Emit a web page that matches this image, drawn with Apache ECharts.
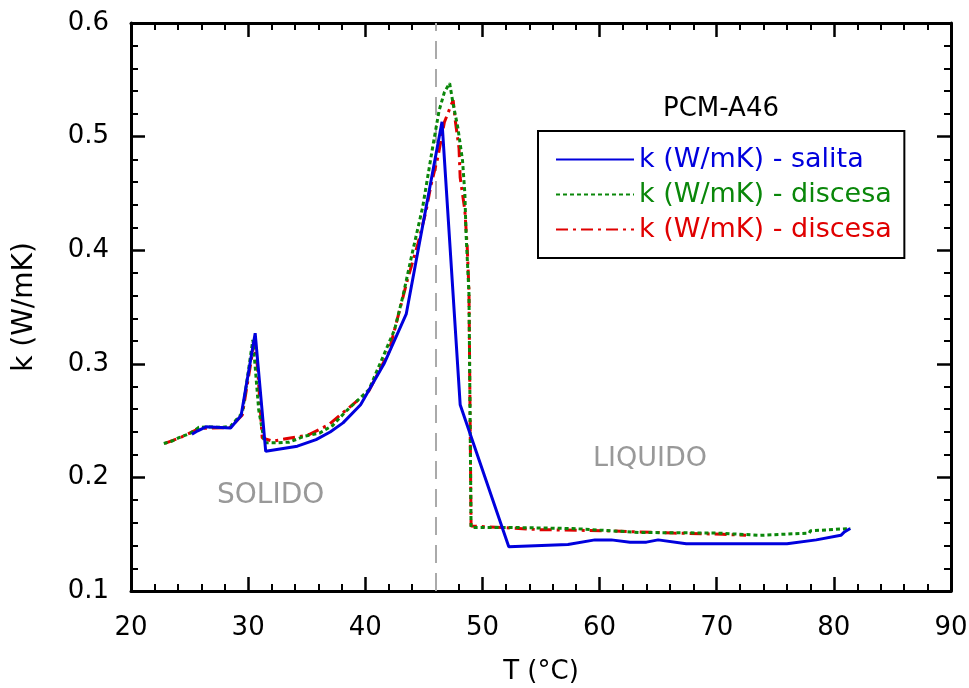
<!DOCTYPE html>
<html>
<head>
<meta charset="utf-8">
<script src="https://cdn.jsdelivr.net/npm/echarts@6/dist/echarts.min.js"></script>
<style>html,body{margin:0;padding:0;background:#fff}#c{width:969px;height:688px}</style>
</head>
<body>
<div id="c"></div>
<script>
// ---- data ----
const tSalita = [25.2, 25.7, 26.4, 28.5, 29.4, 30.6, 31.5, 34.2, 35.8, 37.0, 38.1, 39.6, 41.6, 43.5, 46.55, 48.1, 52.25, 57.3, 59.6, 61.0, 62.6, 64.0, 65.0, 67.4, 76.0, 78.5, 80.6, 80.9, 81.4];
const kSalita = [0.238, 0.241, 0.2445, 0.2435, 0.2545, 0.327, 0.223, 0.2275, 0.2333, 0.240, 0.248, 0.264, 0.300, 0.344, 0.513, 0.264, 0.139, 0.141, 0.145, 0.145, 0.143, 0.143, 0.145, 0.1415, 0.1415, 0.145, 0.149, 0.152, 0.155];

const tDiscesa1 = [22.8, 23.5, 24.1, 25.1, 25.8, 26.5, 27.8, 28.5, 29.5, 30.4, 30.6, 30.9, 31.4, 32.4, 33.5, 34.8, 36.1, 37.2, 38.35, 40.3, 42.5, 43.2, 44.0, 44.9, 45.75, 46.3, 46.75, 47.2, 47.5, 47.9, 48.3, 48.5, 48.6, 48.85, 48.95, 49.03, 52.0, 57.7, 63.4, 70.0, 73.7, 77.9, 78.0, 81.4];
const kDiscesa1 = [0.2298, 0.232, 0.235, 0.239, 0.2441, 0.2445, 0.244, 0.245, 0.2567, 0.321, 0.2976, 0.2596, 0.2304, 0.2304, 0.231, 0.2362, 0.239, 0.2456, 0.2582, 0.277, 0.33, 0.359, 0.397, 0.438, 0.4906, 0.5228, 0.539, 0.547, 0.5287, 0.508, 0.479, 0.45, 0.415, 0.362, 0.25, 0.156, 0.156, 0.155, 0.1515, 0.151, 0.149, 0.151, 0.153, 0.155];

const tDiscesa2 = [22.9, 24.2, 25.8, 28.5, 29.5, 30.5, 30.8, 31.2, 32.1, 33.2, 34.4, 35.2, 36.9, 37.9, 40.3, 42.0, 43.6, 44.5, 45.2, 45.6, 46.2, 46.75, 47.3, 47.5, 47.7, 48.0, 48.1, 48.5, 48.7, 48.85, 48.95, 49.03, 54.9, 60.6, 66.3, 70.5, 72.5];
const kDiscesa2 = [0.230, 0.235, 0.243, 0.244, 0.255, 0.318, 0.2976, 0.2348, 0.2318, 0.234, 0.236, 0.2377, 0.2465, 0.2553, 0.276, 0.31, 0.374, 0.406, 0.435, 0.457, 0.482, 0.5126, 0.527, 0.532, 0.5126, 0.49, 0.464, 0.435, 0.403, 0.365, 0.25, 0.1573, 0.154, 0.153, 0.151, 0.150, 0.149];

const phaseT = 46;
const xTicks = {min: 20, max: 90, interval: 10};
const yTicks = {min: 0.1, max: 0.6, interval: 0.1};
const names = ['k (W/mK) - salita', 'k (W/mK) - discesa', 'k (W/mK) - discesa '];
const colors = ['#0000dd', '#0a870a', '#e00000'];
const title = 'PCM-A46';
const xName = 'T (°C)';
const yName = 'k (W/mK)';

const pairs = (t, k) => t.map((v, i) => [v, k[i]]);
const FONT = 'DejaVu Sans';

function axisCommon(extra) {
  return Object.assign({
    type: 'value',
    axisLine: {show: true, onZero: false, lineStyle: {color: '#000', width: 3}},
    axisTick: {show: true, inside: true, length: 14, lineStyle: {color: '#000', width: 2.5}},
    minorTick: {show: true, splitNumber: 5, length: 7, lineStyle: {color: '#000', width: 2}},
    splitLine: {show: false},
    minorSplitLine: {show: false}
  }, extra);
}

const chart = echarts.init(document.getElementById('c'), null, {renderer: 'canvas'});
chart.setOption({
  animation: false,
  backgroundColor: '#fff',
  title: {
    text: title, left: 716, top: 91, textAlign: 'center',
    textStyle: {fontFamily: FONT, fontSize: 26, fontWeight: 'normal', color: '#000'}
  },
  legend: {
    orient: 'vertical', left: 538, top: 131,
    padding: [15, 4, 15, 17], itemGap: 8,
    itemWidth: 78, itemHeight: 14,
    borderColor: '#000', borderWidth: 2, backgroundColor: '#fff',
    itemStyle: {opacity: 0},
    data: names.map((n, i) => ({name: n, textStyle: {color: colors[i]}})),
    textStyle: {fontFamily: FONT, fontSize: 27}
  },
  grid: {left: 131, right: 18, top: 23, bottom: 97, containLabel: false, outerBoundsMode: 'none'},
  xAxis: [
    axisCommon({
      position: 'bottom', min: xTicks.min, max: xTicks.max, interval: xTicks.interval,
      name: xName, nameLocation: 'middle', nameGap: 68,
      nameTextStyle: {fontFamily: FONT, fontSize: 26, color: '#000'},
      axisLabel: {fontFamily: FONT, fontSize: 26, color: '#000', margin: 24}
    }),
    axisCommon({
      position: 'top', min: xTicks.min, max: xTicks.max, interval: xTicks.interval,
      axisLabel: {show: false}
    })
  ],
  yAxis: [
    axisCommon({
      position: 'left', min: yTicks.min, max: yTicks.max, interval: yTicks.interval,
      name: yName, nameLocation: 'middle', nameGap: 92,
      nameTextStyle: {fontFamily: FONT, fontSize: 28, color: '#000'},
      axisLabel: {fontFamily: FONT, fontSize: 26, color: '#000', margin: 22, formatter: v => v.toFixed(1)}
    }),
    axisCommon({
      position: 'right', min: yTicks.min, max: yTicks.max, interval: yTicks.interval,
      axisLabel: {show: false}
    })
  ],
  graphic: [
    {type: 'text', left: 217, top: 482, style: {text: 'SOLIDO', fontFamily: FONT, fontSize: 28, fill: '#999'}, z: 1},
    {type: 'text', left: 593, top: 445, style: {text: 'LIQUIDO', fontFamily: FONT, fontSize: 27, fill: '#999'}, z: 1}
  ],
  series: [
    {
      name: names[2], type: 'line', data: pairs(tDiscesa2, kDiscesa2), showSymbol: false, symbol: 'none',
      lineStyle: {color: colors[2], width: 3, type: [12, 5, 3, 5]}, itemStyle: {color: colors[2]}, z: 3
    },
    {
      name: names[1], type: 'line', data: pairs(tDiscesa1, kDiscesa1), showSymbol: false, symbol: 'none',
      lineStyle: {color: colors[1], width: 3, type: [4, 3]}, itemStyle: {color: colors[1]}, z: 4
    },
    {
      name: names[0], type: 'line', data: pairs(tSalita, kSalita), showSymbol: false, symbol: 'none',
      lineStyle: {color: colors[0], width: 3, type: 'solid'}, itemStyle: {color: colors[0]}, z: 5,
      markLine: {
        silent: true, symbol: 'none', label: {show: false},
        lineStyle: {color: '#aaaaaa', width: 2, type: [18, 10]},
        data: [{xAxis: phaseT}], z: 1
      }
    }
  ]
});
</script>
</body>
</html>
